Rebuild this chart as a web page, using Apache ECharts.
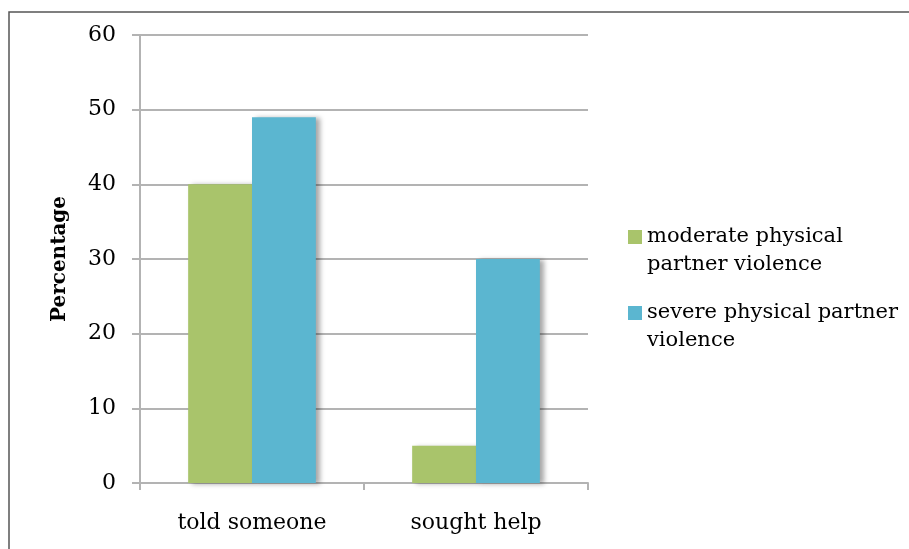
<!DOCTYPE html>
<html>
<head>
<meta charset="utf-8">
<script src="https://cdn.jsdelivr.net/npm/echarts@6/dist/echarts.min.js"></script>
<style>
  html, body { margin: 0; padding: 0; background: #fff; }
  #chart { width: 909px; height: 549px; }
</style>
</head>
<body>
<div id="chart"></div>
<script>
// Share of women who told someone / sought help, by severity of violence
const categories = ['told someone', 'sought help'];
const seriesNames = ['moderate physical\npartner violence', 'severe physical partner\nviolence'];
const moderateValues = [40, 5];
const severeValues = [49, 30];
const yTicks = { min: 0, max: 60, interval: 10 };

const FONT = 'DejaVu Serif';
const GREEN = '#a9c46b';
const BLUE = '#5bb6d0';
const GRID_GRAY = '#b3b3b3';
const TEXT = '#000';

// Legend swatch: square at the top of a tall box, so it sits beside the first text line
const LEGEND_ICON = 'path://M0,0L14,0L14,14L0,14Z M0,42L0.01,42L0,42.01Z';

const chart = echarts.init(document.getElementById('chart'), null, { renderer: 'canvas' });

const barShadow = {
  shadowColor: 'rgba(0,0,0,0.35)',
  shadowBlur: 5,
  shadowOffsetX: 4,
  shadowOffsetY: 1
};

chart.setOption({
  animation: false,
  backgroundColor: '#fff',
  textStyle: { fontFamily: FONT, color: TEXT },
  grid: { left: 140, right: 321, top: 35, bottom: 66, containLabel: false },
  legend: {
    orient: 'vertical',
    left: 623,
    top: 218,
    padding: 5,
    itemWidth: 14,
    itemHeight: 42,
    itemGap: 20,
    icon: LEGEND_ICON,
    selectedMode: false,
    textStyle: {
      fontFamily: FONT,
      fontSize: 21,
      color: TEXT,
      lineHeight: 28
    },
    data: seriesNames
  },
  xAxis: {
    type: 'category',
    data: categories,
    axisLine: { show: true, lineStyle: { color: GRID_GRAY, width: 2 } },
    axisTick: { show: true, length: 7, alignWithLabel: false, lineStyle: { color: GRID_GRAY, width: 2 } },
    axisLabel: { fontFamily: FONT, fontSize: 22, color: TEXT, margin: 29 },
    splitLine: { show: false }
  },
  yAxis: {
    type: 'value',
    min: yTicks.min,
    max: yTicks.max,
    interval: yTicks.interval,
    name: 'Percentage',
    nameLocation: 'middle',
    nameGap: 70,
    nameRotate: 90,
    nameTextStyle: { fontFamily: FONT, fontSize: 20, fontWeight: 'bold', color: TEXT },
    axisLine: { show: true, lineStyle: { color: GRID_GRAY, width: 2 } },
    axisTick: { show: true, inside: false, length: 8, lineStyle: { color: GRID_GRAY, width: 2 } },
    axisLabel: { fontFamily: FONT, fontSize: 22, color: TEXT, margin: 24 },
    splitLine: { show: true, lineStyle: { color: GRID_GRAY, width: 2 } }
  },
  series: [
    {
      name: seriesNames[0],
      type: 'bar',
      data: moderateValues,
      barWidth: '28.5%',
      barGap: '0%',
      itemStyle: Object.assign({ color: GREEN }, barShadow)
    },
    {
      name: seriesNames[1],
      type: 'bar',
      data: severeValues,
      barWidth: '28.5%',
      barGap: '0%',
      itemStyle: Object.assign({ color: BLUE }, barShadow)
    }
  ],
  graphic: [
    {
      type: 'polyline',
      silent: true,
      shape: { points: [[9, 549], [9, 12], [909, 12]] },
      style: { stroke: '#555', lineWidth: 1.5, fill: null }
    }
  ]
});
</script>
</body>
</html>
